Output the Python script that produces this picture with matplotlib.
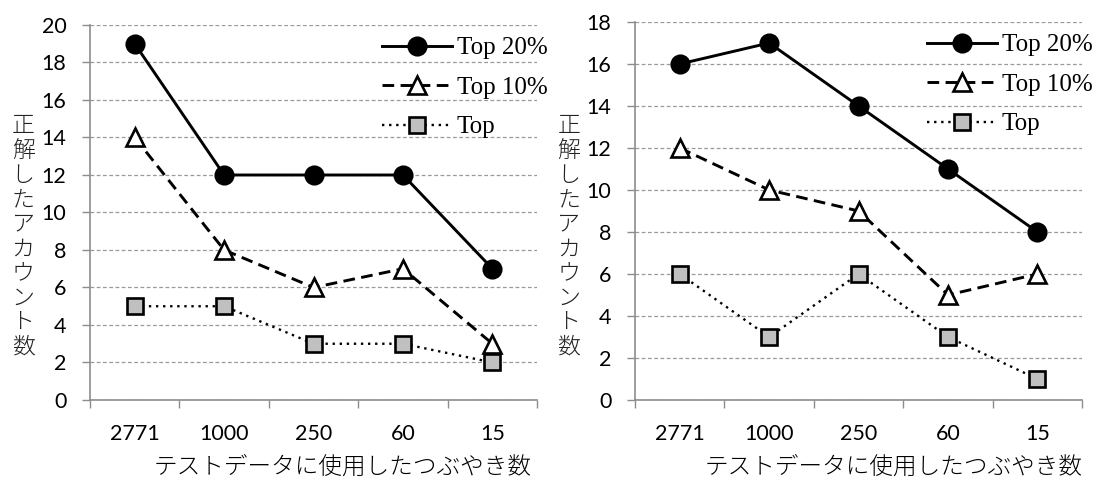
import matplotlib
matplotlib.use("Agg")
import matplotlib.pyplot as plt
from matplotlib.lines import Line2D

# tweets used as test data (x categories)
categories = ["2771", "1000", "250", "60", "15"]
series_names = ["Top 20%", "Top 10%", "Top"]

left_top20 = [19, 12, 12, 12, 7]
left_top10 = [14, 8, 6, 7, 3]
left_top = [5, 5, 3, 3, 2]

right_top20 = [16, 17, 14, 11, 8]
right_top10 = [12, 10, 9, 5, 6]
right_top = [6, 3, 6, 3, 1]

ylabel_text = "正解したアカウント数"
xlabel_text = "テストデータに使用したつぶやき数"

JP = ["Noto Sans CJK JP", "DejaVu Sans"]
TICK_FONT = "Lato"
LEGEND_FONT = "Liberation Serif"

styles = [
    dict(color="black", lw=2.1, ls="-", marker="o", ms=13,
         mfc="black", mec="black", mew=1.5),
    dict(color="black", lw=2.1, ls=(0, (4, 2.2)), marker="^", ms=13,
         mfc="white", mec="black", mew=1.9),
    dict(color="black", lw=1.7, ls=(0, (1, 2)), marker="s", ms=11.5,
         mfc="#c0c0c0", mec="black", mew=1.9),
]


def draw_panel(ax, series, ymax, xlabel_pos):
    x = range(len(categories))
    for vals, st in zip(series, styles):
        ax.plot(x, vals, zorder=3, clip_on=False, **st)

    ax.set_xlim(-0.5, len(categories) - 0.5)
    ax.set_ylim(0, ymax)
    ax.set_yticks(range(0, ymax + 1, 2))
    ax.yaxis.grid(True, color="#999999", ls=(0, (3, 2)), lw=0.9)
    ax.set_axisbelow(True)

    # category labels sit between the boundary tick marks
    ax.set_xticks([i - 0.5 for i in range(len(categories) + 1)])
    ax.set_xticklabels([])
    ax.set_xticks(list(x), minor=True)
    ax.set_xticklabels(categories, minor=True, fontsize=15.5, family=TICK_FONT)
    ax.tick_params(axis="x", which="major", length=6, color="#8c8c8c", width=1)
    ax.tick_params(axis="x", which="minor", length=0, pad=17)
    ax.tick_params(axis="y", length=6, color="#8c8c8c", width=1, pad=11,
                   labelsize=15.5)
    for lab in ax.get_yticklabels():
        lab.set_family(TICK_FONT)

    for side in ("top", "right"):
        ax.spines[side].set_visible(False)
    for side in ("left", "bottom"):
        ax.spines[side].set_color("#8c8c8c")
        ax.spines[side].set_linewidth(1.2)

    ax.set_xlabel(xlabel_text, family=JP, fontsize=17, labelpad=4,
                  fontweight="light")
    ax.xaxis.set_label_coords(xlabel_pos, -0.145)

    handles = [Line2D([], [], **st) for st in styles]
    leg = ax.legend(handles, series_names, loc="upper right",
                    bbox_to_anchor=(1.045, 0.995), frameon=False,
                    prop={"family": LEGEND_FONT, "size": 18},
                    handlelength=2.8, handletextpad=0.2, labelspacing=0.68,
                    borderaxespad=0.0)
    leg.set_zorder(5)


fig = plt.figure(figsize=(10.96, 4.78), dpi=100)
ax1 = fig.add_axes([0.0821, 0.1632, 0.408, 0.7845])
ax2 = fig.add_axes([0.5794, 0.1632, 0.408, 0.7908])

draw_panel(ax1, [left_top20, left_top10, left_top], 20, 0.565)
draw_panel(ax2, [right_top20, right_top10, right_top], 18, 0.578)

# vertical y titles, one character per line
vertical = "\n".join(ylabel_text)
for xf in (0.021, 0.519):
    fig.text(xf, 0.505, vertical, family=JP, fontsize=16.5, ha="center",
             va="center", linespacing=0.98, color="#222222",
             fontweight="light")

fig.savefig("out.png", dpi=100)
